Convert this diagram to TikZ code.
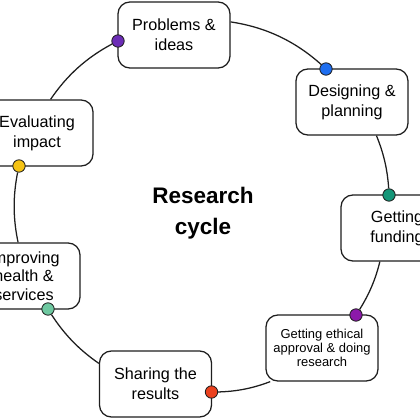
\documentclass[tikz,border=0pt]{standalone}
\usepackage{fontspec}
\setmainfont{Liberation Sans}
\usetikzlibrary{positioning}
\definecolor{ink}{RGB}{30,30,30}
\definecolor{grape}{RGB}{108,45,182}
\definecolor{sky}{RGB}{30,110,240}
\definecolor{teal}{RGB}{20,150,120}
\definecolor{plum}{RGB}{140,25,170}
\definecolor{flame}{RGB}{235,65,30}
\definecolor{mint}{RGB}{110,200,160}
\definecolor{sun}{RGB}{245,195,20}
\tikzset{
  stage/.style={draw=ink,fill=white,rounded corners=8.5pt,line width=0.9pt,
    minimum width=2.8cm,minimum height=1.65cm,align=center,inner sep=2pt,
    font=\fontsize{11.5}{14}\selectfont},
  dot/.style={circle,draw=ink,fill=#1,line width=0.6pt,minimum size=0.31cm,inner sep=0pt},
  dot/.default=sky,
  link/.style={draw=ink,line width=0.9pt,looseness=0.9},
  title/.style={align=center,font=\fontsize{16}{22}\selectfont\bfseries}
}
\begin{document}
\begin{tikzpicture}[x=0.025cm,y=0.025cm]
  \useasboundingbox (0,0) rectangle (420,420);
  % stages of the cycle
  \node[stage] (b1) at (174,385) {Problems \&\\ideas};
  \node[stage] (b2) at (352,318) {Designing \&\\planning};
  \node[stage] (b3) at (397,192) {Getting\\funding};
  \node[stage,font=\fontsize{9.2}{9.8}\selectfont] (b4) at (322,72) {Getting ethical\\approval \& doing\\research};
  \node[stage] (b5) at (155.5,36) {Sharing the\\results};
  \node[stage,font=\fontsize{11.5}{13}\selectfont] (b6) at (24,144) {Improving\\health \&\\services};
  \node[stage] (b7) at (37,287) {Evaluating\\impact};
  \node[title] (mid) at (203,207) {Research\\cycle};
  % markers
  \node[dot=grape] (d1) at (118,379) {};
  \node[dot=sky] (d2) at (326,351) {};
  \node[dot=teal] (d3) at (389,225) {};
  \node[dot=plum] (d4) at (356,105) {};
  \node[dot=flame] (d5) at (211.5,28) {};
  \node[dot=mint] (d6) at (48,111) {};
  \node[dot=sun] (d7) at (19,254) {};
  % arcs
  \draw[link] (b1.13) to[bend left=16.7] (d2);
  \draw[link] (b2.-54) to[bend left=9.2] (d3);
  \draw[link] (b3.-117) to[bend left=9.1] (d4);
  \draw[link] (b4.213) to[bend left=9.7] (d5);
  \draw[link] (b5.160) to[bend left=11.2] (d6);
  \draw[link] (b6.100) to[bend left=11.5] (d7);
  \draw[link] (b7.68) to[bend left=13.9] (d1);
\end{tikzpicture}
\end{document}
